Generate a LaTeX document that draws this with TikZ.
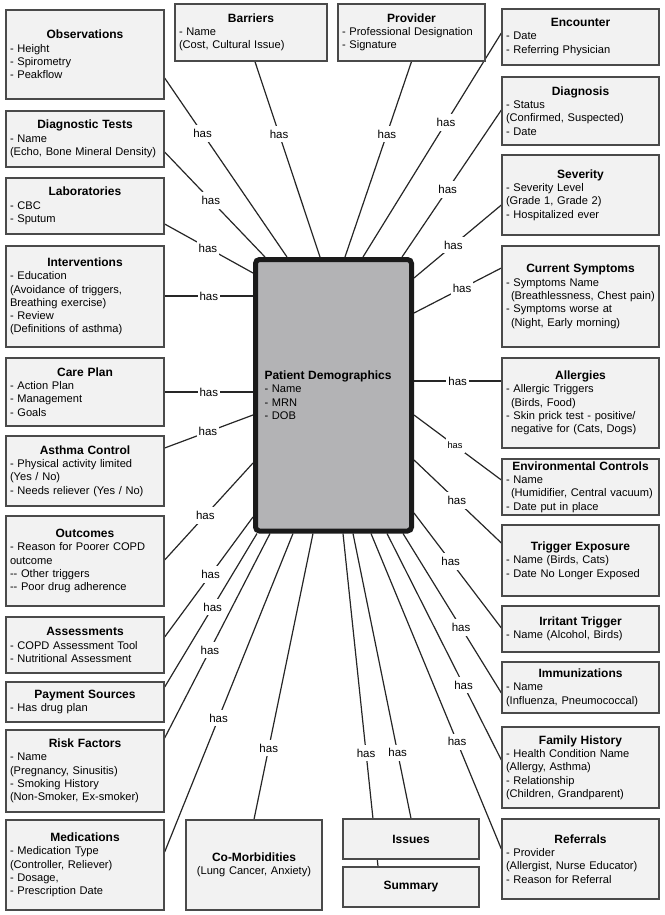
\documentclass[tikz,border=0pt]{standalone}
\usepackage{fontspec}
\setmainfont{Liberation Sans}
\usepackage{xcolor}
\usetikzlibrary{backgrounds}
\setlength{\parindent}{0pt}
\definecolor{boxfill}{HTML}{F2F2F2}
\definecolor{boxedge}{HTML}{4A4A4A}
\definecolor{pdfill}{HTML}{B3B3B5}
\definecolor{pdedge}{HTML}{1A1A1A}
\newcommand{\etitle}[1]{{\centering\fontsize{12}{14}\selectfont\bfseries #1\par}}
\newcommand{\indt}{\hspace*{5pt}}

\begin{document}
\begin{tikzpicture}[x=1pt, y=-1pt,
    entity/.style={draw=boxedge, fill=boxfill, line width=1.3pt, align=left, inner xsep=4pt, inner ysep=2pt, font=\fontsize{11.1}{13.3}\selectfont},
    leftcol/.style={entity, text width=150pt},
    rightcol/.style={entity, text width=149pt},
    plain/.style={entity, align=center, text width=128pt},
    core/.style={draw=pdedge, fill=pdfill, line width=5pt, rounded corners=4pt, text width=138pt, inner xsep=9pt, minimum height=271.5pt, align=left, font=\fontsize{11.1}{13.3}\selectfont},
    conn/.style={line width=1.2pt, draw=black!85},
    haslbl/.style={fill=white, inner xsep=2pt, inner ysep=4pt, font=\fontsize{11.5}{13}\selectfont},
    smalllbl/.style={haslbl, font=\fontsize{9.3}{11}\selectfont}]
		\useasboundingbox (0,0) rectangle (664,915);

		\node[core] (pd) at (333.5,395.25) {{\fontsize{12}{14}\selectfont\bfseries Patient Demographics}\\- Name\\- MRN\\- DOB};

		\node[leftcol, minimum height=89pt] (obs) at (85,54.5) {\etitle{Observations}- Height\\- Spirometry\\- Peakflow};
		\node[leftcol, minimum height=56pt] (diag) at (85,139) {\etitle{Diagnostic Tests}- Name\\\mbox{(Echo, Bone Mineral Density)}};
		\node[leftcol, minimum height=56pt] (lab) at (85,206) {\etitle{Laboratories}- CBC\\- Sputum};
		\node[leftcol, minimum height=101pt] (interv) at (85,296.5) {\etitle{Interventions}- Education\\(Avoidance of triggers,\\Breathing exercise)\\- Review\\(Definitions of asthma)};
		\node[leftcol, minimum height=68pt] (careplan) at (85,392) {\etitle{Care Plan}- Action Plan\\- Management\\- Goals};
		\node[leftcol, minimum height=70pt] (control) at (85,471) {\etitle{Asthma Control}- Physical activity limited\\(Yes / No)\\- Needs reliever (Yes / No)};
		\node[leftcol, minimum height=90pt] (outcome) at (85,561) {\etitle{Outcomes}- Reason for Poorer COPD\\outcome\\-{}- Other triggers\\-{}- Poor drug adherence};
		\node[leftcol, minimum height=56pt] (assess) at (85,645) {\etitle{Assessments}- COPD Assessment Tool\\- Nutritional Assessment};
		\node[leftcol, minimum height=40pt] (payment) at (85,702) {\etitle{Payment Sources}- Has drug plan};
		\node[leftcol, minimum height=82pt] (risk) at (85,771) {\etitle{Risk Factors}- Name\\(Pregnancy, Sinusitis)\\- Smoking History\\(Non-Smoker, Ex-smoker)};
		\node[leftcol, minimum height=90pt] (meds) at (85,865) {\etitle{Medications}- Medication Type\\(Controller, Reliever)\\- Dosage,\\- Prescription Date};
		\node[plain, minimum height=90pt] (comorb) at (254,865) {{\fontsize{12}{14}\selectfont\bfseries Co-Morbidities}\\(Lung Cancer, Anxiety)};

		\node[entity, text width=144pt, minimum height=57pt] (barriers) at (251,32.5) {\etitle{Barriers}- Name\\(Cost, Cultural Issue)};
		\node[entity, text width=139pt, minimum height=57pt] (provider) at (411.5,32.5) {\etitle{Provider}- Professional Designation\\- Signature};

		\node[rightcol, minimum height=56pt] (encounter) at (580.5,37) {\etitle{Encounter}- Date\\- Referring Physician};
		\node[rightcol, minimum height=68pt] (diagnosis) at (580.5,111) {\etitle{Diagnosis}- Status\\(Confirmed, Suspected)\\- Date};
		\node[rightcol, minimum height=80pt] (severity) at (580.5,195) {\etitle{Severity}- Severity Level\\(Grade 1, Grade 2)\\- Hospitalized ever};
		\node[rightcol, minimum height=101pt] (symptoms) at (580.5,296.5) {\etitle{Current Symptoms}- Symptoms Name\\\mbox{\indt(Breathlessness, Chest pain)}\\- Symptoms worse at\\\indt(Night, Early morning)};
		\node[rightcol, minimum height=90pt] (allergy) at (580.5,403) {\etitle{Allergies}- Allergic Triggers\\\indt(Birds, Food)\\- Skin prick test - positive/\\\indt negative for (Cats, Dogs)};
		\node[rightcol, minimum height=56pt] (envctrl) at (580.5,487) {\etitle{Environmental Controls}- Name\\\mbox{\indt(Humidifier, Central vacuum)}\\- Date put in place};
		\node[rightcol, minimum height=71pt] (trigger) at (580.5,560.5) {\etitle{Trigger Exposure}- Name (Birds, Cats)\\- Date No Longer Exposed};
		\node[rightcol, minimum height=46pt] (irritant) at (580.5,629) {\etitle{Irritant Trigger}- Name (Alcohol, Birds)};
		\node[rightcol, minimum height=51pt] (immun) at (580.5,687.5) {\etitle{Immunizations}- Name\\(Influenza, Pneumococcal)};
		\node[rightcol, minimum height=81pt] (famhist) at (580.5,767.5) {\etitle{Family History}- Health Condition Name\\(Allergy, Asthma)\\- Relationship\\(Children, Grandparent)};
		\node[rightcol, minimum height=80pt] (referral) at (580.5,859) {\etitle{Referrals}- Provider\\(Allergist, Nurse Educator)\\- Reason for Referral};

		\node[plain, minimum height=40pt] (issues) at (411,839) {{\fontsize{12}{14}\selectfont\bfseries Issues}};
		\node[plain, minimum height=40pt] (summary) at (411,887) {{\fontsize{12}{14}\selectfont\bfseries Summary}};

		\begin{pgfonlayer}{background}
		\path[conn]
		(pd.north -| 287,0) edge node[haslbl, pos=.69] {has} (obs.east |- 0,78)
		(pd.north -| 265,0) edge node[haslbl, pos=.54] {has} (diag.east |- 0,152)
		(pd.west |- 0,273) edge node[haslbl, pos=.51] {has} (lab.east |- 0,224)
		(pd.west |- 0,296) edge node[haslbl, pos=.5] {has} (interv.east |- 0,296)
		(pd.west |- 0,392) edge node[haslbl, pos=.5] {has} (careplan.east)
		(pd.west |- 0,415) edge node[haslbl, pos=.51] {has} (control.east |- 0,448)
		(pd.west |- 0,463) edge node[haslbl, pos=.54] {has} (outcome.east |- 0,560)
		(pd.west |- 0,517) edge node[haslbl, pos=.48] {has} (assess.east |- 0,637)
		(pd.south -| 257,0) edge node[haslbl, pos=.48] {has} (payment.east |- 0,687)
		(pd.south -| 270,0) edge node[haslbl, pos=.57] {has} (risk.east |- 0,738)
		(pd.south -| 293,0) edge node[haslbl, pos=.58] {has} (meds.east |- 0,852)
		(pd.south -| 313,0) edge node[haslbl, pos=.75] {has} (comorb.north)
		(pd.north -| 320,0) edge node[haslbl, pos=.63] {has} (barriers.south -| 255,0)
		(pd.north -| 345,0) edge node[haslbl, pos=.63] {has} (provider.south)
		(pd.north -| 363,0) edge node[haslbl, pos=.60] {has} (encounter.west |- 0,33)
		(pd.north -| 402,0) edge node[haslbl, pos=.46] {has} (diagnosis.west |- 0,110)
		(pd.east |- 0,278) edge node[haslbl, pos=.45] {has} (severity.west |- 0,205)
		(pd.east |- 0,313) edge node[haslbl, pos=.55] {has} (symptoms.west |- 0,268)
		(pd.east |- 0,381) edge node[haslbl, pos=.5] {has} (allergy.west |- 0,381)
		(pd.east |- 0,415) edge node[smalllbl, pos=.47] {has} (envctrl.west |- 0,480)
		(pd.east |- 0,460) edge node[haslbl, pos=.49] {has} (trigger.west |- 0,543)
		(pd.east |- 0,513) edge node[haslbl, pos=.42] {has} (irritant.west |- 0,628)
		(pd.south -| 403,0) edge node[haslbl, pos=.59] {has} (immun.west |- 0,693)
		(pd.south -| 387,0) edge node[haslbl, pos=.67] {has} (famhist.west |- 0,760)
		(pd.south -| 371,0) edge node[haslbl, pos=.66] {has} (referral.west |- 0,849)
		(pd.south -| 353,0) edge node[haslbl, pos=.77] {has} (issues.north -| 411,0)
		(pd.south -| 343,0) edge node[haslbl, pos=.66] {has} (summary.north -| 378,0);
		\end{pgfonlayer}
	\end{tikzpicture}
\end{document}
